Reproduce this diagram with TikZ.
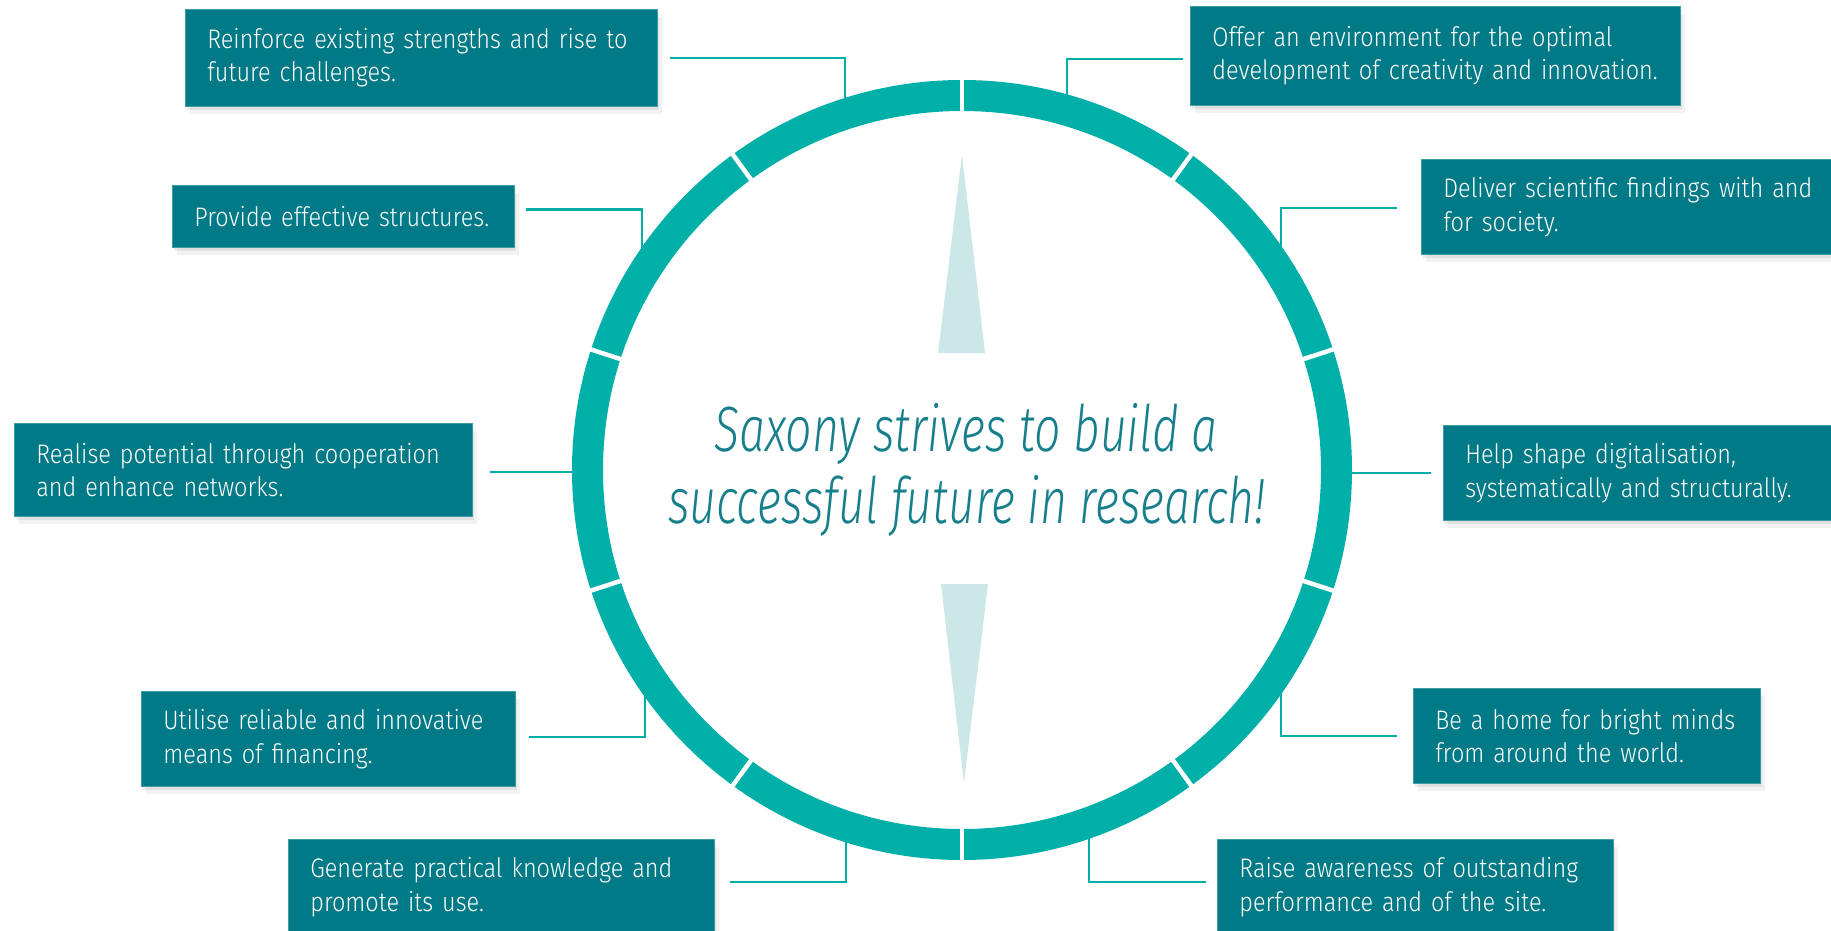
\documentclass[tikz,border=0pt]{standalone}
\usepackage{fontspec}
\setmainfont{Fira Sans}
\newfontfamily\boxfont{Fira Sans Light}[FakeStretch=0.875]
\newfontfamily\centerfont{Fira Sans Light Italic}[FakeStretch=0.725]
\usetikzlibrary{shadows}
\definecolor{boxteal}{HTML}{007A87}
\definecolor{ringteal}{HTML}{00B0A8}
\definecolor{needle}{HTML}{CCE7E8}
\definecolor{titleteal}{HTML}{177F8B}
\definecolor{boxedge}{HTML}{3E9CA5}
\newcommand\bl[1]{\mbox{#1}}
\tikzset{
  box/.style={fill=boxteal, draw=boxedge, line width=0.8pt, text=white,
    anchor=north west, inner xsep=22pt, inner ysep=0pt, align=left,
    font=\boxfont\fontsize{26.8}{33.5}\selectfont,
    drop shadow={shadow xshift=2pt, shadow yshift=-4pt, opacity=0.07, fill=black},
    drop shadow={shadow xshift=5pt, shadow yshift=-8pt, opacity=0.05, fill=black}},
  conn/.style={draw=ringteal, line width=2.2pt},
  title/.style={text=titleteal, anchor=base, inner sep=0pt,
    font=\centerfont\fontsize{64}{72}\selectfont},
}
\begin{document}
\begin{tikzpicture}[x=1pt,y=-1pt]
\useasboundingbox (0,0) rectangle (1831,931);
\clip (0,0) rectangle (1831,931);
\coordinate (c) at (962,470);
% boxes
\node[box, text width=428pt, minimum height=97pt] (b1) at (185,9)
  {\bl{Reinforce existing strengths and rise to}\\\bl{future challenges.}};
\node[box, text width=298pt, minimum height=62pt] (b2) at (172,185)
  {\bl{Provide effective structures.}};
\node[box, text width=414pt, minimum height=93pt] (b3) at (14,423)
  {\bl{Realise potential through cooperation}\\\bl{and enhance networks.}};
\node[box, text width=330pt, minimum height=95pt] (b4) at (141,691)
  {\bl{Utilise reliable and innovative}\\\bl{means of financing.}};
\node[box, text width=382pt, minimum height=95pt] (b5) at (288,839)
  {\bl{Generate practical knowledge and}\\\bl{promote its use.}};
\node[box, text width=446pt, minimum height=99pt] (b6) at (1190,6)
  {\bl{Offer an environment for the optimal}\\\bl{development of creativity and innovation.}};
\node[box, text width=400pt, minimum height=95pt] (b7) at (1421,159)
  {\bl{Deliver scientific findings with and}\\\bl{for society.}};
\node[box, text width=370pt, minimum height=95pt] (b8) at (1443,425)
  {\bl{Help shape digitalisation,}\\\bl{systematically and structurally.}};
\node[box, text width=303pt, minimum height=95pt] (b9) at (1413,688)
  {\bl{Be a home for bright minds}\\\bl{from around the world.}};
\node[box, text width=352pt, minimum height=95pt] (b10) at (1217,839)
  {\bl{Raise awareness of outstanding}\\\bl{performance and of the site.}};
% ring end points of connectors
\coordinate (r1) at (845,102);
\coordinate (r2) at (642,254);
\coordinate (r3) at (576,472);
\coordinate (r4) at (645,690);
\coordinate (r5) at (846,838);
\coordinate (r6) at (1067,99);
\coordinate (r7) at (1281,253);
\coordinate (r8) at (1348,471);
\coordinate (r9) at (1281,687);
\coordinate (r10) at (1089,834);
% connectors
\draw[conn] ([xshift=12pt]b1.east) -| (r1);
\draw[conn] ([xshift=11pt,yshift=7pt]b2.east) -| (r2);
\draw[conn] ([xshift=17pt,yshift=-2pt]b3.east) -| (r3);
\draw[conn] ([xshift=13pt,yshift=2pt]b4.east) -| (r4);
\draw[conn] ([xshift=15pt,yshift=5pt]b5.east) -| (r5);
\draw[conn] ([xshift=-7pt,yshift=-3pt]b6.west) -| (r6);
\draw[conn] ([xshift=-24pt,yshift=-1pt]b7.west) -| (r7);
\draw[conn] ([xshift=-12pt]b8.west) -| (r8);
\draw[conn] ([xshift=-16pt]b9.west) -| (r9);
\draw[conn] ([xshift=-11pt,yshift=5pt]b10.west) -| (r10);
% ring
\draw[ringteal, line width=31pt] (c) circle[radius=374.5];
\foreach \a in {18,54,...,342}
  \draw[white, line width=4.5pt] ([shift={(\a:350)}]c) -- ([shift={(\a:399)}]c);
% needles
\fill[needle] (962,155) -- (985,353) -- (938,353) -- cycle;
\fill[needle] (941,584) -- (988,584) -- (964,783) -- cycle;
% title
\node[title] (t1) at (966,451) {Saxony strives to build a};
\node[title] (t2) at (967,523) {successful future in research!};
\end{tikzpicture}
\end{document}
